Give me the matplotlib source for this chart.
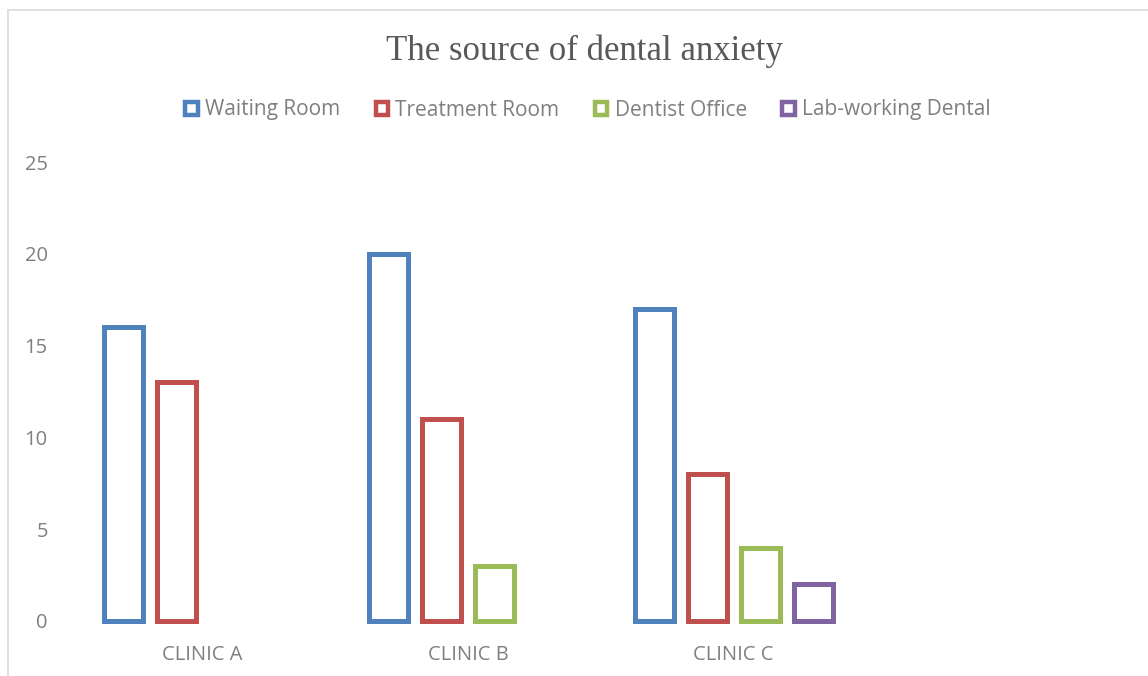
import numpy as np
import matplotlib.pyplot as plt
from matplotlib.patches import Patch
from matplotlib.lines import Line2D

# Dados do gráfico
clinicas = ["CLINIC A", "CLINIC B", "CLINIC C", ""]
series = ["Waiting Room", "Treatment Room", "Dentist Office", "Lab-working Dental"]
waiting_room = [16, 20, 17, 0]
treatment_room = [13, 11, 8, 0]
dentist_office = [0, 3, 4, 0]
lab_working = [0, 0, 2, 0]
cores = ["#4F81BD", "#C0504D", "#9BBB59", "#8064A2"]

valores = [waiting_room, treatment_room, dentist_office, lab_working]

fig = plt.figure(figsize=(11.48, 6.76), dpi=100)
ax = fig.add_axes([70 / 1148, 55 / 676, 1062 / 1148, 459 / 676])

x = np.arange(len(clinicas))
largura_slot = 0.2
largura_barra = 0.147
for i, (nome, vals, cor) in enumerate(zip(series, valores, cores)):
    vals = np.array(vals, dtype=float)
    pos = x + (i - 1.5) * largura_slot
    mask = vals > 0
    ax.bar(pos[mask], vals[mask], width=largura_barra, fill=False,
           edgecolor=cor, linewidth=3.6, clip_on=False)

ax.set_xlim(-0.5, 3.5)
ax.set_ylim(0, 25)
ax.set_yticks([0, 5, 10, 15, 20, 25])
ax.set_xticks(x)
ax.set_xticklabels(clinicas)
for s in ax.spines.values():
    s.set_visible(False)
ax.tick_params(axis="both", length=0, colors="#7f7f7f", labelsize=14.5)
ax.tick_params(axis="y", pad=16)
ax.tick_params(axis="x", pad=17)
for lbl in ax.get_xticklabels() + ax.get_yticklabels():
    lbl.set_fontfamily("Open Sans")

# Título
fig.text(584 / 1148, 1 - 51 / 676, "The source of dental anxiety", ha="center", va="center",
         fontsize=25, family="Liberation Serif", color="#595959")

# Legenda com quadrados vazados
handles = [Patch(facecolor="white", edgecolor=c, linewidth=3.2) for c in cores]
leg = fig.legend(handles, series, loc="center", bbox_to_anchor=(588 / 1148, 1 - 110 / 676),
                 ncol=4, frameon=False, handlelength=0.6, handleheight=0.6,
                 handletextpad=0.35, columnspacing=1.7,
                 prop={"family": "Open Sans", "size": 15})
for t in leg.get_texts():
    t.set_color("#7f7f7f")

# Borda da área do gráfico
fig.add_artist(Line2D([8 / 1148, 8 / 1148], [0, 1 - 10 / 676], color="#d9d9d9", lw=1.2))
fig.add_artist(Line2D([8 / 1148, 1], [1 - 10 / 676, 1 - 10 / 676], color="#d9d9d9", lw=1.2))

fig.savefig("out.png", dpi=100)
